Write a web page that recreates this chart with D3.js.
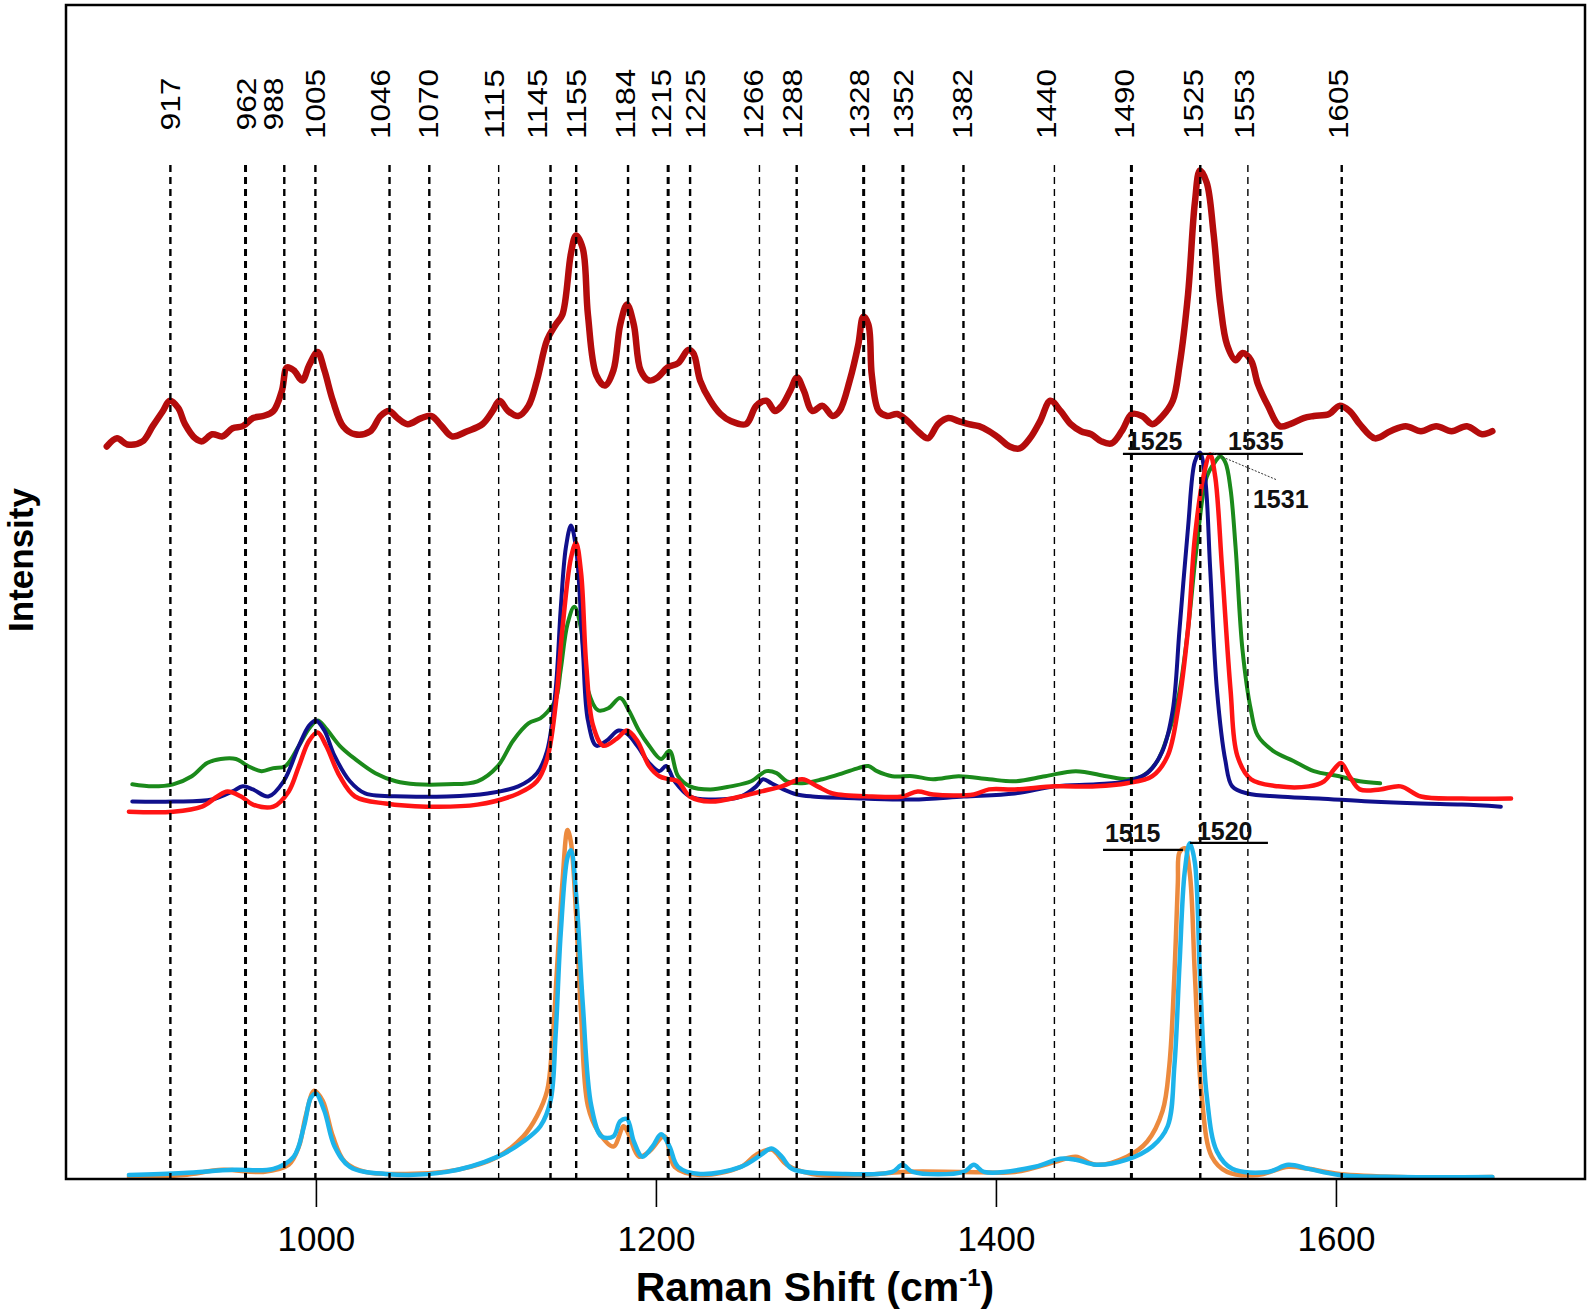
<!DOCTYPE html>
<html>
<head>
<meta charset="utf-8">
<script src="https://cdn.jsdelivr.net/npm/d3@7/dist/d3.min.js"></script>
<style>
  html, body { margin: 0; padding: 0; background: #fff; }
  svg { display: block; }
  text { font-family: "Liberation Sans", Arial, Helvetica, sans-serif; }
</style>
</head>
<body>
<svg id="chart" width="1591" height="1312"></svg>
<script>
// ---------------- DATA (wavenumber cm^-1, intensity a.u.) ----------------
const xTicks = [1000, 1200, 1400, 1600];

const peakLabels     = [917, 962, 988, 1005, 1046, 1070, 1115, 1145, 1155, 1184, 1215, 1225, 1266, 1288, 1328, 1352, 1382, 1440, 1490, 1525, 1553, 1605];
// where each dashed line is drawn (cm^-1)
const peakPositions  = [914.4, 958.6, 981.4, 999.7, 1043.3, 1066.7, 1107.5, 1138.0, 1153.1, 1183.6, 1207.2, 1220.1, 1260.9, 1282.8, 1322.2, 1345.3, 1380.9, 1434.4, 1479.7, 1520.2, 1548.2, 1603.4];
// where each label text is centred (cm^-1)
const labelPositions = [914.4, 958.6, 974.7, 999.7, 1037.6, 1065.9, 1104.7, 1130.3, 1152.9, 1181.6, 1202.9, 1222.9, 1257.1, 1280.0, 1319.4, 1345.3, 1380.0, 1429.2, 1475.3, 1515.9, 1546.2, 1601.2];

const darkRedSpectrum = [
  [877,722],[883,730],[889,724],[898,727],[904,742],[910,757],[914,767],[919,760],[923,744],[929,730],
  [933,727],[939,734],[945,732],[951,740],[957,742],[963,750],[969,752],[975,757],[980,777],[983,800],
  [987,797],[992,787],[996,802],[1001,815],[1005,797],[1010,767],[1016,742],[1023,734],[1032,737],[1038,752],
  [1043,757],[1048,750],[1054,744],[1062,750],[1068,752],[1074,742],[1080,732],[1089,737],[1098,744],[1104,757],
  [1108,767],[1113,757],[1119,752],[1125,762],[1130,787],[1136,827],[1141,842],[1145,852],[1150,912],[1153,930],
  [1157,917],[1160,852],[1165,792],[1170,782],[1175,797],[1179,842],[1183,862],[1187,842],[1191,797],[1196,787],
  [1201,790],[1207,800],[1213,804],[1219,817],[1222,814],[1226,787],[1232,767],[1238,754],[1244,747],[1253,744],
  [1259,762],[1265,767],[1270,757],[1274,762],[1279,777],[1283,790],[1287,777],[1292,757],[1298,762],[1304,752],
  [1308,757],[1314,787],[1319,822],[1322,850],[1325,842],[1327,792],[1331,757],[1336,752],[1342,754],[1348,747],
  [1354,737],[1360,730],[1366,744],[1372,750],[1378,747],[1384,744],[1390,742],[1396,737],[1402,730],[1408,722],
  [1414,720],[1420,730],[1426,747],[1432,767],[1438,757],[1444,744],[1450,737],[1456,734],[1462,727],[1468,725],
  [1474,737],[1480,754],[1486,752],[1492,744],[1498,752],[1504,767],[1508,802],[1513,872],[1517,962],[1520,994],
  [1524,982],[1528,932],[1532,862],[1536,822],[1541,807],[1545,814],[1550,807],[1554,784],[1560,762],[1567,742],
  [1573,744],[1581,750],[1587,752],[1596,754],[1602,762],[1608,757],[1614,744],[1623,730],[1632,737],[1641,742],
  [1650,737],[1659,742],[1668,737],[1677,742],[1686,734],[1692,737]
];

const greenSpectrum = [
  [892,389],[904,387],[916,389],[927,397],[936,410],[944,414],[953,414],[960,407],[968,402],[975,405],
  [982,407],[990,427],[996,444],[1001,452],[1006,444],[1014,427],[1023,414],[1035,400],[1047,392],[1059,389],
  [1077,389],[1095,392],[1107,407],[1116,432],[1125,449],[1132,454],[1136,460],[1141,472],[1144,502],[1148,547],
  [1152,564],[1156,542],[1160,482],[1166,462],[1172,464],[1179,474],[1184,462],[1190,442],[1196,427],[1203,414],
  [1208,422],[1213,397],[1220,387],[1232,384],[1244,387],[1256,392],[1265,402],[1271,400],[1277,392],[1286,390],
  [1298,394],[1310,400],[1319,405],[1325,407],[1330,402],[1339,397],[1351,397],[1363,394],[1378,397],[1396,394],
  [1411,392],[1429,397],[1447,402],[1465,397],[1477,394],[1486,397],[1495,412],[1501,437],[1507,472],[1513,542],
  [1518,622],[1524,692],[1529,707],[1532,712],[1535,706],[1538,680],[1541,622],[1545,522],[1550,462],[1554,437],
  [1563,422],[1575,412],[1587,402],[1602,397],[1614,392],[1626,390]
];

const navySpectrum = [
  [892,372],[916,372],[939,374],[951,382],[957,387],[963,384],[972,377],[981,392],[990,427],[996,447],
  [1000,452],[1005,442],[1011,417],[1020,392],[1029,380],[1053,377],[1077,377],[1101,380],[1119,387],[1130,400],
  [1136,422],[1141,482],[1144,562],[1147,622],[1150,644],[1153,622],[1157,522],[1160,452],[1165,427],[1171,432],
  [1178,442],[1183,439],[1189,427],[1196,410],[1202,402],[1206,407],[1211,392],[1220,377],[1232,374],[1250,377],
  [1259,387],[1263,394],[1268,390],[1275,384],[1283,379],[1292,377],[1322,375],[1351,374],[1381,377],[1411,380],
  [1435,387],[1459,389],[1477,392],[1489,400],[1498,422],[1504,462],[1508,542],[1513,642],[1517,707],[1520,716],
  [1523,692],[1526,602],[1530,482],[1535,412],[1539,387],[1548,380],[1566,377],[1590,375],[1620,372],[1650,370],
  [1674,369],[1697,367]
];

const redSpectrum = [
  [890,362],[916,362],[933,367],[942,377],[948,382],[956,377],[963,369],[975,367],[984,382],[990,407],
  [996,432],[1001,440],[1006,427],[1014,397],[1023,377],[1041,370],[1065,367],[1095,369],[1119,380],[1130,392],
  [1136,414],[1141,467],[1145,542],[1150,612],[1153,627],[1156,597],[1159,507],[1163,447],[1169,427],[1177,434],
  [1183,442],[1189,432],[1196,407],[1202,397],[1208,394],[1213,392],[1220,377],[1232,372],[1250,377],[1262,382],
  [1274,387],[1286,394],[1295,387],[1304,380],[1327,377],[1345,377],[1354,382],[1363,379],[1387,379],[1396,384],
  [1411,384],[1435,387],[1459,387],[1477,390],[1492,397],[1501,417],[1507,462],[1513,542],[1517,632],[1522,692],
  [1526,714],[1529,692],[1533,602],[1538,482],[1542,417],[1550,394],[1566,387],[1584,387],[1593,392],[1599,404],
  [1603,410],[1608,397],[1614,384],[1626,384],[1638,387],[1650,377],[1674,375],[1703,375]
];

const orangeSpectrum = [
  [890,2],[922,4],[945,9],[969,7],[984,14],[990,32],[994,62],[999,87],[1004,77],[1010,42],
  [1017,17],[1029,7],[1053,5],[1083,9],[1107,22],[1122,42],[1130,62],[1136,87],[1139,132],[1142,212],
  [1145,292],[1148,344],[1150,332],[1153,262],[1156,162],[1160,72],[1166,47],[1175,32],[1181,52],[1184,44],
  [1190,22],[1196,27],[1205,42],[1211,12],[1226,4],[1250,12],[1259,24],[1268,29],[1277,14],[1292,5],
  [1322,4],[1345,7],[1381,7],[1411,7],[1435,17],[1447,22],[1459,14],[1477,22],[1489,37],[1498,67],
  [1502,112],[1505,202],[1507,292],[1508,322],[1511,326],[1514,302],[1517,202],[1521,82],[1527,22],[1536,7],
  [1554,4],[1572,12],[1584,10],[1602,5],[1638,2],[1692,2]
];

const skyBlueSpectrum = [
  [890,4],[922,6],[951,9],[975,10],[987,22],[993,52],[997,80],[1000,84],[1005,67],[1011,32],
  [1020,12],[1041,5],[1077,7],[1107,22],[1122,37],[1132,52],[1138,77],[1141,142],[1144,242],[1148,317],
  [1150,324],[1153,282],[1157,172],[1162,72],[1168,42],[1175,42],[1179,57],[1183,59],[1187,37],[1192,22],
  [1198,32],[1203,44],[1208,32],[1213,12],[1226,5],[1250,12],[1262,24],[1268,30],[1274,22],[1280,10],
  [1310,5],[1339,7],[1345,14],[1351,7],[1381,7],[1387,14],[1393,7],[1423,12],[1438,20],[1447,19],
  [1459,14],[1477,19],[1492,32],[1501,52],[1505,112],[1508,212],[1511,302],[1514,331],[1517,312],[1520,202],
  [1524,82],[1530,27],[1539,10],[1560,7],[1572,14],[1584,10],[1602,4],[1638,2],[1692,2]
];

// annotations: [label, x(cm-1), y(a.u.)]
const annotTexts = [["1525",1477,718.5],["1535",1536.5,718.5],["1531",1551.2,661],["1515",1464.1,332],["1520",1518.2,334]];
// bars under annotation labels: [x1, x2, y]
const annotBars = [[1474.7,1580.6,714.6],[1463,1510,324.3],[1514.1,1560,331.2]];
// pointer line: [x1,y1,x2,y2]
const annotPointer = [1527.6,715.6,1565.3,689];

// ---------------- DRAWING ----------------
const svg = d3.select("#chart");
const L = 66, R = 1585, T = 5, B = 1179;

const x = d3.scaleLinear().domain([853, 1746.5]).range([L, R]);
const y = d3.scaleLinear().domain([0, 1157.1]).range([B, T]);

const line = d3.line().x(d => x(d[0])).y(d => y(d[1])).curve(d3.curveCatmullRom.alpha(0.5));

const series = [
  {data: darkRedSpectrum, color: "#b40c0c", width: 6.5},
  {data: greenSpectrum,   color: "#1b8a1b", width: 4},
  {data: navySpectrum,    color: "#10108c", width: 4},
  {data: redSpectrum,     color: "#ff1414", width: 4.5},
  {data: orangeSpectrum,  color: "#ec8a3e", width: 4.5},
  {data: skyBlueSpectrum, color: "#1db3ea", width: 4.5}
];

const gSpec = svg.append("g");
series.forEach(s => {
  gSpec.append("path")
    .attr("d", line(s.data))
    .attr("fill", "none")
    .attr("stroke", s.color)
    .attr("stroke-width", s.width)
    .attr("stroke-linejoin", "round")
    .attr("stroke-linecap", "round");
});

// dashed reference lines and labels
const thinSet = new Set([1115, 1266, 1440, 1553]);
const thickSet = new Set([962, 1215, 1328, 1352, 1490]);
const gPeaks = svg.append("g");
peakLabels.forEach((lab, i) => {
  const px = x(peakPositions[i]);
  const lx = x(labelPositions[i]);
  gPeaks.append("line")
    .attr("x1", px).attr("x2", px)
    .attr("y1", 165).attr("y2", B)
    .attr("stroke", "#000")
    .attr("stroke-width", thinSet.has(lab) ? 1.4 : (thickSet.has(lab) ? 3 : 2.4))
    .attr("stroke-dasharray", "7,5");
  const s = String(lab);
  gPeaks.append("text")
    .attr("transform", `translate(${lx + 10},104) rotate(-90)`)
    .attr("text-anchor", "middle")
    .attr("font-size", 28)
    .attr("textLength", s.length === 3 ? 53 : 70)
    .attr("lengthAdjust", "spacingAndGlyphs")
    .attr("fill", "#000")
    .text(s);
});

// annotations
const gAnn = svg.append("g");
annotBars.forEach(b => {
  gAnn.append("line")
    .attr("x1", x(b[0])).attr("x2", x(b[1]))
    .attr("y1", y(b[2])).attr("y2", y(b[2]))
    .attr("stroke", "#000").attr("stroke-width", 2.2);
});
gAnn.append("line")
  .attr("x1", x(annotPointer[0])).attr("y1", y(annotPointer[1]))
  .attr("x2", x(annotPointer[2])).attr("y2", y(annotPointer[3]))
  .attr("stroke", "#333").attr("stroke-width", 1).attr("stroke-dasharray", "2,1.5");
annotTexts.forEach(t => {
  gAnn.append("text")
    .attr("x", x(t[1])).attr("y", y(t[2]))
    .attr("font-size", 25).attr("font-weight", "bold")
    .attr("fill", "#111")
    .text(t[0]);
});

// frame
svg.append("rect")
  .attr("x", L).attr("y", T).attr("width", R - L).attr("height", B - T)
  .attr("fill", "none").attr("stroke", "#000").attr("stroke-width", 2.5);

// x axis
const ax = svg.append("g").attr("transform", `translate(0,${B})`)
  .call(d3.axisBottom(x).tickValues(xTicks).tickSize(28).tickFormat(d3.format("d")));
ax.select(".domain").remove();
ax.selectAll(".tick line").attr("stroke", "#000").attr("stroke-width", 1.6);
ax.selectAll(".tick text")
  .attr("y", 72).attr("dy", 0)
  .attr("font-size", 35)
  .attr("font-family", "'Liberation Sans', Arial, sans-serif")
  .attr("fill", "#000");

// axis titles
const xt = svg.append("text")
  .attr("x", 815).attr("y", 1301)
  .attr("text-anchor", "middle")
  .attr("font-size", 41).attr("font-weight", "bold").attr("fill", "#000");
xt.append("tspan").text("Raman Shift (cm");
xt.append("tspan").attr("font-size", 24).attr("dy", -15).text("-1");
xt.append("tspan").attr("dy", 15).text(")");

svg.append("text")
  .attr("transform", "translate(33,560) rotate(-90)")
  .attr("text-anchor", "middle")
  .attr("font-size", 35).attr("font-weight", "bold").attr("fill", "#000")
  .text("Intensity");
</script>
</body>
</html>
